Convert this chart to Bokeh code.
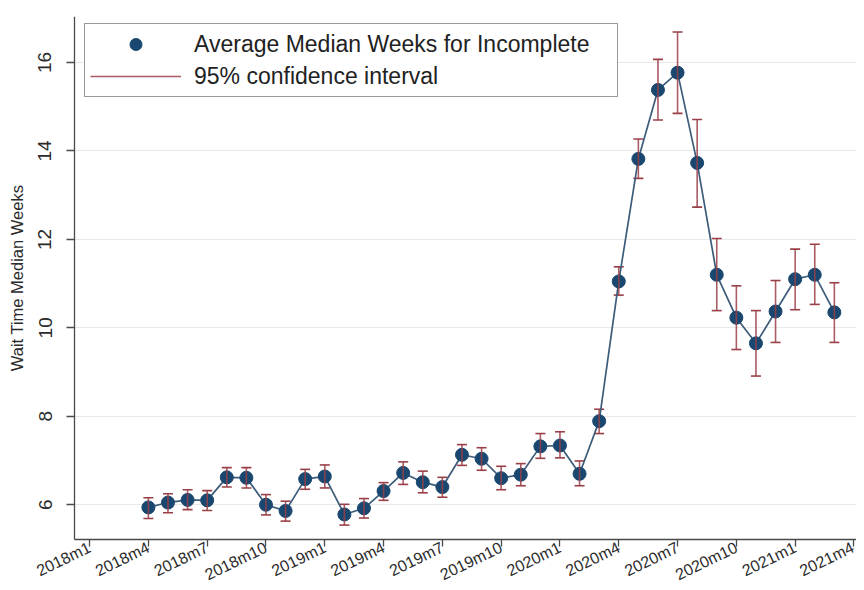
from bokeh.plotting import figure
from bokeh.models import (Range1d, FixedTicker, Whisker, TeeHead, ColumnDataSource, Legend,
                          LegendItem, BoxAnnotation)
from bokeh.embed import file_html
from bokeh.resources import INLINE

# ---------------- data ----------------
periods = ["2018m4", "2018m5", "2018m6", "2018m7", "2018m8", "2018m9", "2018m10", "2018m11", "2018m12",
           "2019m1", "2019m2", "2019m3", "2019m4", "2019m5", "2019m6", "2019m7", "2019m8", "2019m9",
           "2019m10", "2019m11", "2019m12", "2020m1", "2020m2", "2020m3", "2020m4", "2020m5", "2020m6",
           "2020m7", "2020m8", "2020m9", "2020m10", "2020m11", "2020m12", "2021m1", "2021m2", "2021m3"]
median_weeks = [5.94, 6.05, 6.11, 6.10, 6.62, 6.61, 6.00, 5.86, 6.58, 6.64, 5.78, 5.92, 6.31, 6.72, 6.51,
                6.40, 7.13, 7.04, 6.60, 6.68, 7.32, 7.34, 6.70, 7.89, 11.05, 13.82, 15.38, 15.77, 13.73,
                11.20, 10.23, 9.65, 10.37, 11.10, 11.20, 10.35]
ci_upper = [6.16, 6.25, 6.34, 6.32, 6.84, 6.84, 6.23, 6.08, 6.80, 6.90, 6.01, 6.14, 6.50, 6.97, 6.76,
            6.62, 7.36, 7.29, 6.87, 6.93, 7.61, 7.65, 6.99, 8.16, 11.38, 14.27, 16.07, 16.69, 14.71,
            12.02, 10.95, 10.39, 11.07, 11.78, 11.89, 11.02]
ci_lower = [5.69, 5.82, 5.89, 5.87, 6.40, 6.38, 5.77, 5.63, 6.35, 6.38, 5.54, 5.70, 6.10, 6.46, 6.27,
            6.17, 6.89, 6.78, 6.34, 6.43, 7.05, 7.06, 6.43, 7.61, 10.74, 13.38, 14.70, 14.85, 12.73,
            10.39, 9.51, 8.91, 9.67, 10.41, 10.53, 9.67]
x_tick_labels = ["2018m1", "2018m4", "2018m7", "2018m10", "2019m1", "2019m4", "2019m7", "2019m10",
                 "2020m1", "2020m4", "2020m7", "2020m10", "2021m1", "2021m4"]
y_ticks = [6, 8, 10, 12, 14, 16]
y_title = "Wait Time Median Weeks"
series_label = "Average Median Weeks for Incomplete"
ci_label = "95% confidence interval"


def month_index(s):
    y, m = s.split("m")
    return (int(y) - 2018) * 12 + int(m) - 1


xs = [month_index(s) for s in periods]
tick_pos = [month_index(s) for s in x_tick_labels]

src = ColumnDataSource(dict(x=xs, y=median_weeks, lo=ci_lower, hi=ci_upper))

FONT = "Liberation Sans"
NAVY = "#1a476f"
MAROON = "#9a3f48"
TEXT = "#2b2b2b"
# axis extents (the frame is enlarged so the rotated labels and axis title are not clipped)
X_AXIS_START, X_END, X_FLOOR = -0.77, 39.13, -4.546
AXIS_BASE, Y_TOP, Y_FLOOR = 5.215, 17.04, 4.242

p = figure(width=856, height=582,
           x_range=Range1d(X_FLOOR, X_END), y_range=Range1d(Y_FLOOR, Y_TOP),
           output_backend="svg", toolbar_location=None,
           min_border_left=0, min_border_right=0, min_border_top=16, min_border_bottom=0,
           outline_line_color=None, background_fill_color="white", border_fill_color="white")

# grid (only inside the axes)
p.xgrid.grid_line_color = None
p.ygrid.grid_line_color = "#e9e9e9"
p.ygrid.grid_line_width = 1.2
try:
    p.ygrid.cross_bounds = (X_AXIS_START, X_END)
except AttributeError:
    p.add_layout(BoxAnnotation(right=X_AXIS_START, fill_color="white", fill_alpha=1,
                               line_color=None, level="underlay"))

# axes
p.xaxis.ticker = FixedTicker(ticks=tick_pos)
p.xaxis.major_label_overrides = {t: l for t, l in zip(tick_pos, x_tick_labels)}
p.xaxis.major_label_orientation = 0.45
p.xaxis.fixed_location = AXIS_BASE
p.xaxis.bounds = (X_AXIS_START, X_END)
p.yaxis.ticker = FixedTicker(ticks=y_ticks)
p.yaxis.fixed_location = X_AXIS_START
p.yaxis.bounds = (AXIS_BASE, Y_TOP)
p.yaxis.major_label_orientation = "vertical"
p.yaxis.axis_label = y_title
for ax in (p.xaxis, p.yaxis):
    ax.axis_line_color = "#4a4a4a"
    ax.axis_line_width = 1.3
    ax.major_tick_line_color = "#4a4a4a"
    ax.major_tick_line_width = 1.3
    ax.major_tick_in = 0
    ax.major_tick_out = 8
    ax.minor_tick_line_color = None
    ax.major_label_text_font = FONT
    ax.major_label_text_color = TEXT
p.xaxis.major_tick_out = 7
p.xaxis.major_label_text_font_size = "16px"
p.xaxis.major_label_standoff = 0
p.yaxis.major_label_text_font_size = "19px"
p.yaxis.major_label_standoff = 15
p.yaxis.axis_label_text_font = FONT
p.yaxis.axis_label_text_font_size = "16.5px"
p.yaxis.axis_label_text_font_style = "normal"
p.yaxis.axis_label_text_color = TEXT
p.yaxis.axis_label_standoff = 10

# series
line_r = p.line("x", "y", source=src, line_color="#3d5c7a", line_width=1.7)
pts = p.scatter("x", "y", source=src, size=13, fill_color=NAVY, line_color=NAVY)
stems = p.segment(x0="x", y0="lo", x1="x", y1="hi", source=src, line_color=MAROON,
                  line_width=1.6, line_alpha=0.85)
caps = Whisker(source=src, base="x", lower="lo", upper="hi", dimension="height",
               line_alpha=0,
               lower_head=TeeHead(size=10, line_color=MAROON, line_width=1.6),
               upper_head=TeeHead(size=10, line_color=MAROON, line_width=1.6))
p.add_layout(caps)

legend = Legend(items=[LegendItem(label=series_label, renderers=[pts]),
                       LegendItem(label=ci_label, renderers=[stems])],
                location=(84, 485), margin=0, padding=5, spacing=2,
                glyph_width=91, glyph_height=30, label_height=30, label_width=418, label_standoff=13,
                label_text_font=FONT, label_text_font_size="23px", label_text_color="#222222",
                border_line_color="#333333", border_line_width=1.2,
                background_fill_color="white", background_fill_alpha=1)
p.add_layout(legend)

open("out.html", "w").write(file_html(p, INLINE))
